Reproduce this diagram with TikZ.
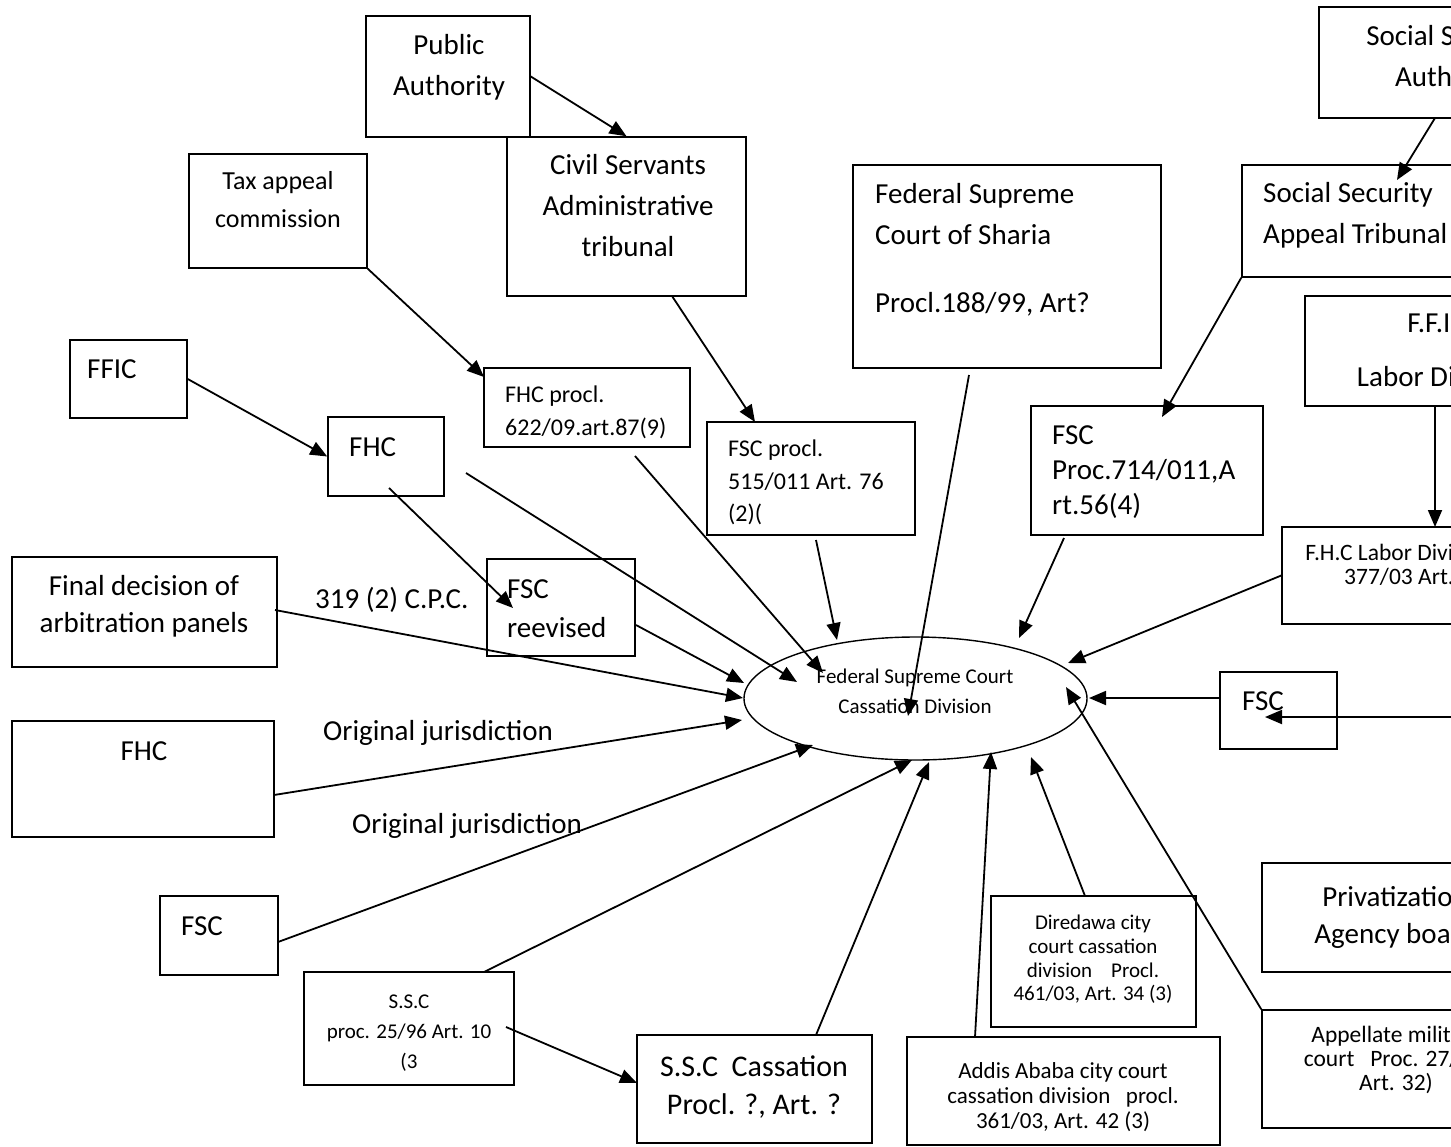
\documentclass[tikz,border=0pt]{standalone}
\usepackage{fontspec}
\setmainfont{Carlito}
\usetikzlibrary{arrows.meta,shapes.geometric,fit}
\begin{document}
\begin{tikzpicture}[x=1pt,y=-1pt,
  box/.style={draw, line width=1.5pt, inner sep=0pt, fit={#1}},
  conn/.style={line width=1.8pt, -{Triangle[length=17pt,width=14pt]}},
  fA/.style={font=\fontsize{29}{41}\selectfont, inner sep=0pt},
  fB/.style={font=\fontsize{26}{38}\selectfont, inner sep=0pt},
  fC/.style={font=\fontsize{24}{33}\selectfont, inner sep=0pt},
  fD/.style={font=\fontsize{23.5}{24}\selectfont, inner sep=0pt},
  fE/.style={font=\fontsize{21}{30}\selectfont, inner sep=0pt},
  fF/.style={font=\fontsize{23}{25}\selectfont, inner sep=0pt},
  fG/.style={font=\fontsize{21}{23.7}\selectfont, inner sep=0pt}
]
\useasboundingbox (0,0) rectangle (1451,1146);
\fill[white] (0,0) rectangle (1451,1146);
\clip (0,0) rectangle (1451,1146);

% ---------- boxes ----------
\node[box={(366,16) (530,137)}] (pa) {};
\node[box={(507,137) (746,296)}] (cs) {};
\node[box={(189,154) (367,268)}] (tax) {};
\node[box={(70,340) (187,418)}] (ffic) {};
\node[box={(328,417) (444,496)}] (fhc) {};
\node[box={(484,368) (690,447)}] (fhcp) {};
\node[box={(707,422) (915,535)}] (fsp) {};
\node[box={(487,559) (635,656)}] (rev) {};
\node[box={(853,165) (1161,368)}] (sha) {};
\node[box={(1319,7) (1600,118)}] (ssa) {};
\node[box={(1242,165) (1600,277)}] (ssat) {};
\node[box={(1031,406) (1263,535)}] (f714) {};
\node[box={(1305,296) (1600,406)}] (ffl) {};
\node[box={(1282,527) (1600,624)}] (fhl) {};
\node[box={(1220,672) (1337,749)}] (fscr) {};
\node[box={(1262,863) (1600,972)}] (priv) {};
\node[box={(1262,1010) (1600,1128)}] (app) {};
\node[box={(12,557) (277,667)}] (fin) {};
\node[box={(12,721) (274,837)}] (fhcl) {};
\node[box={(160,896) (278,975)}] (fscl) {};
\node[box={(304,972) (514,1085)}] (ssc) {};
\node[box={(637,1035) (872,1143)}] (sscc) {};
\node[box={(907,1037) (1220,1145)}] (addis) {};
\node[box={(991,896) (1196,1027)}] (dire) {};
\node[draw, ellipse, line width=1.4pt, inner sep=0pt, minimum width=343pt, minimum height=123pt] (cass) at (915.5,698.5) {};

% ---------- texts ----------
\node[fA, anchor=north, align=center] (paT) at (449,25.6) {\strut Public\\Authority};
\node[fA, anchor=north, align=center] (csT) at (628,146) {\strut Civil Servants\\Administrative\\tribunal};
\node[fB, anchor=north, align=center] (taxT) at (278,163) {\strut Tax appeal\\commission};
\node[fA, anchor=north west, align=left] (shaT) at (875,175) {\strut Federal Supreme\\Court of Sharia\\[27pt]Procl.188/99, Art?};
\node[fA, anchor=north, align=center] (ssaT) at (1451,17) {\strut Social Security\\Authority};
\node[fA, anchor=north west, align=left] (ssatT) at (1263,174) {\strut Social Security\\Appeal Tribunal};
\node[fA, anchor=north, align=center] (fflT) at (1440,304) {\strut F.F.I.C\\[13pt]Labor Division};
\node[fA, anchor=north west, align=left, font=\fontsize{29}{35}\selectfont] (f714T) at (1052,420) {\strut FSC\\Proc.714/011,A\\rt.56(4)};
\node[fD, anchor=north, align=center] (fhlT) at (1399,543) {\strut F.H.C Labor Division\\377/03 Art.};
\node[fA, anchor=base west] (fficT) at (87,378) {FFIC};
\node[fA, anchor=base west] (fhcT) at (349,456) {FHC};
\node[fC, anchor=north west, align=left] (fhcpT) at (505,379) {\strut FHC procl.\\622/09.art.87(9)};
\node[fC, anchor=north west, align=left, font=\fontsize{24}{32.5}\selectfont] (fspT) at (728,434) {\strut FSC procl.\\515/011 Art. 76\\(2)(};
\node[fA, anchor=north west, align=left, font=\fontsize{29}{39}\selectfont] (revT) at (507,571) {\strut FSC\\reevised};
\node[fA, anchor=north, align=center, font=\fontsize{29}{37}\selectfont] (finT) at (144,569) {\strut Final decision of\\arbitration panels};
\node[fA, anchor=base] (fhclT) at (144,760) {FHC};
\node[fA, anchor=base west] (fsclT) at (181,935) {FSC};
\node[fA, anchor=base west] (lab1) at (315,608) {319 (2) C.P.C.};
\node[fA, anchor=base west] (lab2) at (323,740) {Original jurisdiction};
\node[fA, anchor=base west] (lab3) at (352,833) {Original jurisdiction};
\node[fE, anchor=north, align=center] (sscT) at (409,987) {\strut S.S.C\\proc. 25/96 Art. 10\\(3};
\node[fA, anchor=north, align=center, font=\fontsize{30}{38}\selectfont] (ssccT) at (754,1050) {\strut S.S.C\ \ Cassation\\Procl. ?, Art. ?};
\node[fF, anchor=north, align=center] (addisT) at (1063,1061) {\strut Addis Ababa city court\\cassation division\ \ \ procl.\\361/03, Art. 42 (3)};
\node[fG, anchor=north, align=center] (direT) at (1093,913) {\strut Diredawa city\\court cassation\\division\ \ \ \ Procl.\\461/03, Art. 34 (3)};
\node[fE, anchor=north, align=center] (cassT) at (915,662) {\strut Federal Supreme Court\\Cassation Division};
\node[fA, anchor=north, align=center, font=\fontsize{29}{37}\selectfont] (privT) at (1395,880) {\strut Privatization\\Agency board};
\node[fF, anchor=north, align=center, font=\fontsize{23.5}{24}\selectfont] (appT) at (1396,1025) {\strut Appellate military\\court\ \ \ Proc. 27/96,\\Art. 32)};
\node[fA, anchor=base west] (fscrT) at (1242,710) {FSC};

% ---------- connector end points ----------
\coordinate (taxIn) at (484,377);
\coordinate (csOut) at (672,296);
\coordinate (fspIn) at (755,422);
\coordinate (fhcIn) at (389,488);
\coordinate (revIn) at (513,608);
\coordinate (fhcOut) at (466,473);
\coordinate (fhcpOut) at (635,456);
\coordinate (fspOut) at (816,540);
\coordinate (shaOut) at (969,375);
\coordinate (ssaOut) at (1435,118);
\coordinate (ssatIn) at (1397,180);
\coordinate (f714In) at (1162,417);
\coordinate (f714Out) at (1064,538);
\coordinate (fflOut) at (1435,406);
\coordinate (fhlIn) at (1435,527);
\coordinate (rightIn) at (1460,717);
\coordinate (fscrTip) at (1265,717);
\coordinate (fscrOut) at (1220,698);
\coordinate (direOut) at (1085,896);
\coordinate (addisOut) at (975,1037);
\coordinate (ssccOut) at (816,1035);
\coordinate (sscOut) at (484,972);
\coordinate (sscOut2) at (506,1027);
\coordinate (ssccIn) at (637,1083);
\coordinate (fsclOut) at (278,942);
\coordinate (fhclOut) at (274,795);
\coordinate (finOut) at (275,610);
\coordinate (revOut) at (636,625);
% tips on the ellipse
\coordinate (eRev) at (744,683);
\coordinate (eFin) at (743,698);
\coordinate (eFhcl) at (742,720);
\coordinate (eFscl) at (813,745);
\coordinate (eSsc) at (912,760);
\coordinate (eSscc) at (929,762);
\coordinate (eAddis) at (991,752);
\coordinate (eDire) at (1031,757);
\coordinate (eApp) at (1066,687);
\coordinate (eFscr) at (1089,698);
\coordinate (eFhl) at (1068,663);
\coordinate (eF714) at (1019,638);
\coordinate (eSha) at (908,716);
\coordinate (eFsp) at (837,640);
\coordinate (eFhcp) at (823,673);
\coordinate (eFhc) at (797,682);

% ---------- connectors ----------
\draw[conn] (pa.east) -- (cs.north);
\draw[conn] (tax.south east) -- (taxIn);
\draw[conn] (csOut) -- (fspIn);
\draw[conn] (ffic.east) -- (fhc.west);
\draw[conn] (fhcIn) -- (revIn);
\draw[conn] (fhcOut) -- (eFhc);
\draw[conn] (fhcpOut) -- (eFhcp);
\draw[conn] (fspOut) -- (eFsp);
\draw[conn] (shaOut) -- (eSha);
\draw[conn] (ssaOut) -- (ssatIn);
\draw[conn] (ssat.south west) -- (f714In);
\draw[conn] (f714Out) -- (eF714);
\draw[conn] (fflOut) -- (fhlIn);
\draw[conn] (fhl.west) -- (eFhl);
\draw[conn] (rightIn) -- (fscrTip);
\draw[conn] (fscrOut) -- (eFscr);
\draw[conn] (app.north west) -- (eApp);
\draw[conn] (direOut) -- (eDire);
\draw[conn] (addisOut) -- (eAddis);
\draw[conn] (ssccOut) -- (eSscc);
\draw[conn] (sscOut) -- (eSsc);
\draw[conn] (sscOut2) -- (ssccIn);
\draw[conn] (fsclOut) -- (eFscl);
\draw[conn] (fhclOut) -- (eFhcl);
\draw[conn] (finOut) -- (eFin);
\draw[conn] (revOut) -- (eRev);
\end{tikzpicture}
\end{document}
